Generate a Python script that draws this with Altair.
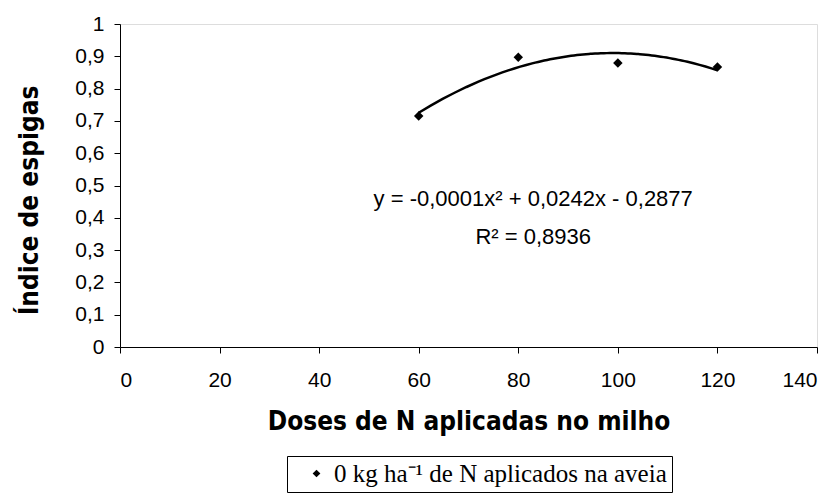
import altair as alt
import pandas as pd

doses = [60, 80, 100, 120]
indice = [0.715, 0.897, 0.879, 0.867]
serie_label = "0 kg ha\u207b\u00b9 de N aplicados na aveia"
y_ticks = [0, 0.1, 0.2, 0.3, 0.4, 0.5, 0.6, 0.7, 0.8, 0.9, 1.0]
x_ticks = [0, 20, 40, 60, 80, 100, 120, 140]
eq_lines = ["y = -0,0001x\u00b2 +  0,0242x - 0,2877", "R\u00b2 = 0,8936"]
eq_x = [83, 83]
eq_y = [0.458, 0.34]

df = pd.DataFrame({"x": doses, "y": indice, "serie": [serie_label] * len(doses)})
eq_df = pd.DataFrame({"x": eq_x, "y": eq_y, "t": eq_lines})

sans = "Liberation Sans"
narrow = "Liberation Sans Narrow, DejaVu Sans Condensed, Liberation Sans"
xscale = alt.Scale(domain=[0, 140], nice=False, zero=True)
yscale = alt.Scale(domain=[0, 1], nice=False)

xaxis = alt.Axis(values=x_ticks, title="Doses de N aplicadas no milho", grid=False,
                 domainColor="black", tickColor="black", tickSize=6, labelPadding=16,
                 labelFont=sans, labelFontSize=21, labelColor="black",
                 titleFont=narrow, titleFontSize=26, titleFontWeight="bold", titleColor="black",
                 titleY=74, titleBaseline="middle")
yaxis = alt.Axis(values=y_ticks, tickCount=11, labelOverlap=False, title="Índice de espigas",
                 grid=False,
                 labelExpr="replace(format(datum.value, '~g'), '.', ',')",
                 domainColor="black", tickColor="black", tickSize=6, labelPadding=10,
                 labelFont=sans, labelFontSize=21, labelColor="black",
                 titleFont=narrow, titleFontSize=26, titleFontWeight="bold", titleColor="black",
                 titleX=-91, titleY=176, titleAngle=-90, titleBaseline="middle")

X = alt.X("x:Q", scale=xscale, axis=xaxis)
Y = alt.Y("y:Q", scale=yscale, axis=yaxis)

base = alt.Chart(df)

curve = base.transform_regression("x", "y", method="poly", order=2, extent=[60, 120]).mark_line(
    color="black", strokeWidth=2.5
).encode(x=X, y=Y)

points = base.mark_point(shape="diamond", filled=True, size=90, opacity=1).encode(
    x=X, y=Y,
    color=alt.Color("serie:N", scale=alt.Scale(range=["black"]),
                    legend=alt.Legend(title=None, orient="none", legendX=167, legendY=432,
                                      strokeColor="black", padding=5, labelLimit=500,
                                      symbolType="diamond", symbolSize=60, symbolOffset=12,
                                      labelOffset=5,
                                      labelFont="Liberation Serif", labelFontSize=25,
                                      labelColor="black", cornerRadius=0)),
)

eq = alt.Chart(eq_df).mark_text(font=sans, fontSize=22, color="black", align="center",
                                baseline="middle").encode(x=X, y=Y, text="t:N")

chart = (curve + points + eq).properties(
    width=697, height=323,
    autosize=alt.AutoSizeParams(type="none"),
    padding={"left": 120, "top": 24, "right": 20, "bottom": 148},
).configure_view(stroke=None).configure(background="white")

chart.save("out.html", embed_options={"renderer": "svg", "actions": False})
